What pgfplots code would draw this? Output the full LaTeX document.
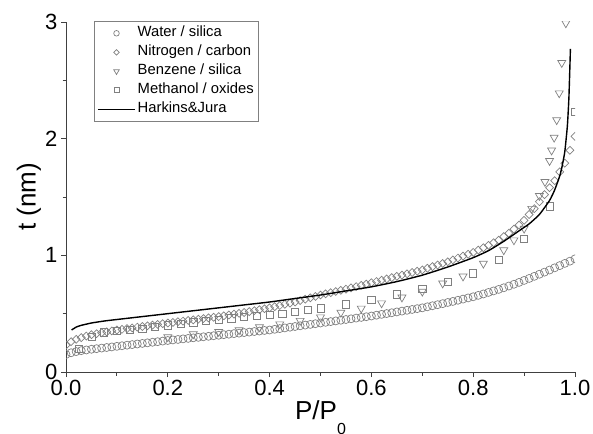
\documentclass[border=0pt]{standalone}
\usepackage{fontspec}
\setmainfont{Liberation Sans}
\usepackage{pgfplots}
\pgfplotsset{compat=1.18}
\definecolor{mk}{HTML}{808080}
\definecolor{ax}{HTML}{404040}
\begin{document}
\begin{tikzpicture}
\begin{axis}[
  scale only axis, width=509pt, height=350pt,
  xmin=0, xmax=1, ymin=0, ymax=3,
  axis x line*=bottom, axis y line*=left,
  axis line style={ax, line width=0.9pt},
  tick align=outside, tick style={ax, line width=0.9pt},
  major tick length=5pt, minor tick length=3.5pt,
  xtick={0,0.2,0.4,0.6,0.8,1}, ytick={0,1,2,3},
  minor x tick num=1, minor y tick num=1,
  /pgf/number format/assume math mode=true,
  xticklabel style={font=\fontsize{22}{22}\selectfont,
    /pgf/number format/.cd, fixed, fixed zerofill, precision=1},
  yticklabel style={font=\fontsize{22}{22}\selectfont},
  xlabel={P/P\raisebox{-15pt}{\fontsize{16}{16}\selectfont 0}}, ylabel={t (nm)},
  label style={font=\fontsize{26}{26}\selectfont},
  xlabel style={at={(axis description cs:0.5,0)}, anchor=base, yshift=-47pt},
  ylabel style={at={(axis description cs:0,0.5)}, anchor=center, yshift=37pt},
  clip marker paths=true,
  legend style={at={(axis description cs:0,1)}, anchor=north west,
    xshift=28pt, yshift=1pt, draw=mk, line width=0.6pt,
    font=\fontsize{14.8}{15}\selectfont, inner xsep=3pt, inner ysep=2.5pt,
    row sep=0pt, nodes={inner sep=2pt, text height=11pt, text depth=4pt}},
  legend cell align=left,
  legend image code/.code={\draw[mark repeat=2, mark phase=2, #1,
    every mark/.append style={scale=0.7}]
    plot coordinates {(0pt,0pt) (18.5pt,0pt) (37pt,0pt)};},
]
\coordinate (sw) at (rel axis cs:0,0);
\coordinate (ne) at (rel axis cs:1,1);

% Water / silica
\addplot[mk, only marks, mark=o, mark size=4pt, line width=0.7pt] table {
0.00 .150
0.01 .165
0.02 .175
0.03 .183
0.04 .189
0.05 .195
0.06 .200
0.07 .205
0.08 .210
0.09 .215
0.10 .220
0.11 .225
0.12 .230
0.13 .235
0.14 .240
0.15 .245
0.16 .250
0.17 .255
0.18 .260
0.19 .265
0.20 .270
0.21 .275
0.22 .279
0.23 .284
0.24 .288
0.25 .293
0.26 .297
0.27 .302
0.28 .306
0.29 .311
0.30 .315
0.31 .320
0.32 .324
0.33 .329
0.34 .333
0.35 .338
0.36 .342
0.37 .347
0.38 .351
0.39 .356
0.40 .360
0.41 .366
0.42 .372
0.43 .378
0.44 .384
0.45 .390
0.46 .396
0.47 .402
0.48 .408
0.49 .414
0.50 .420
0.51 .426
0.52 .432
0.53 .438
0.54 .444
0.55 .450
0.56 .456
0.57 .462
0.58 .468
0.59 .474
0.60 .480
0.61 .487
0.62 .494
0.63 .501
0.64 .508
0.65 .515
0.66 .522
0.67 .529
0.68 .536
0.69 .543
0.70 .550
0.71 .559
0.72 .568
0.73 .577
0.74 .586
0.75 .596
0.76 .605
0.77 .615
0.78 .625
0.79 .635
0.80 .645
0.81 .657
0.82 .669
0.83 .682
0.84 .695
0.85 .708
0.86 .722
0.87 .737
0.88 .752
0.89 .768
0.90 .785
0.91 .802
0.92 .820
0.93 .838
0.94 .856
0.95 .874
0.96 .893
0.97 .912
0.98 .931
0.99 .950
1.00 .970
};
\addlegendentry{Water / silica}

% Nitrogen / carbon
\addplot[mk, only marks, mark=square, mark size=2.8pt, line width=0.7pt,
  mark options={rotate=45}] table {
0.00 .230
0.01 .260
0.02 .280
0.03 .295
0.04 .308
0.05 .320
0.06 .328
0.07 .336
0.08 .344
0.09 .352
0.10 .360
0.11 .366
0.12 .372
0.13 .378
0.14 .384
0.15 .390
0.16 .396
0.17 .402
0.18 .408
0.19 .414
0.20 .420
0.21 .425
0.22 .431
0.23 .436
0.24 .442
0.25 .447
0.26 .453
0.27 .458
0.28 .464
0.29 .469
0.30 .475
0.31 .482
0.32 .489
0.33 .496
0.34 .503
0.35 .510
0.36 .518
0.37 .526
0.38 .534
0.39 .542
0.40 .550
0.41 .560
0.42 .570
0.43 .580
0.44 .590
0.45 .600
0.46 .612
0.47 .624
0.48 .636
0.49 .648
0.50 .660
0.51 .670
0.52 .680
0.53 .690
0.54 .700
0.55 .710
0.56 .721
0.57 .732
0.58 .743
0.59 .754
0.60 .765
0.61 .776
0.62 .787
0.63 .798
0.64 .809
0.65 .820
0.66 .831
0.67 .842
0.68 .853
0.69 .864
0.70 .875
0.71 .889
0.72 .903
0.73 .917
0.74 .931
0.75 .945
0.76 .961
0.77 .977
0.78 .993
0.79 1.009
0.80 1.025
0.81 1.045
0.82 1.065
0.83 1.086
0.84 1.108
0.85 1.130
0.86 1.160
0.87 1.190
0.88 1.225
0.89 1.260
0.90 1.300
0.91 1.350
0.92 1.400
0.93 1.460
0.94 1.520
0.95 1.580
0.96 1.640
0.97 1.715
0.98 1.790
0.99 1.900
1.00 2.020
};
\addlegendentry{Nitrogen / carbon}

% Benzene / silica
\addplot[mk, only marks, mark=triangle, mark size=4.6pt, line width=0.7pt,
  mark options={rotate=180}] table {
0.20 0.300
0.25 0.325
0.30 0.345
0.34 0.360
0.38 0.385
0.42 0.410
0.46 0.440
0.50 0.470
0.54 0.510
0.58 0.545
0.62 0.590
0.66 0.640
0.70 0.690
0.74 0.760
0.78 0.820
0.82 0.930
0.86 1.045
0.88 1.130
0.90 1.230
0.915 1.400
0.93 1.510
0.941 1.630
0.95 1.810
0.954 1.900
0.959 2.010
0.964 2.160
0.969 2.390
0.974 2.650
0.982 2.990
};
\addlegendentry{Benzene / silica}

% Methanol / oxides
\addplot[mk, only marks, mark=square, mark size=3.6pt, line width=0.7pt] table {
0.025 0.200
0.050 0.300
0.075 0.340
0.100 0.350
0.125 0.360
0.150 0.370
0.175 0.385
0.200 0.400
0.225 0.410
0.250 0.425
0.275 0.440
0.300 0.450
0.325 0.460
0.350 0.470
0.375 0.480
0.400 0.490
0.425 0.500
0.450 0.515
0.475 0.530
0.500 0.545
0.550 0.580
0.600 0.620
0.650 0.665
0.700 0.715
0.750 0.770
0.800 0.845
0.850 0.960
0.900 1.140
0.950 1.420
1.000 2.230
};
\addlegendentry{Methanol / oxides}

% Harkins & Jura
\addplot[black, line width=1.4pt, smooth, tension=0.3, no marks] table {
0.011 0.360
0.020 0.385
0.030 0.400
0.050 0.420
0.075 0.437
0.100 0.450
0.150 0.475
0.200 0.500
0.250 0.525
0.300 0.550
0.350 0.575
0.400 0.600
0.450 0.630
0.500 0.660
0.550 0.695
0.600 0.730
0.650 0.775
0.700 0.830
0.750 0.900
0.800 0.980
0.830 1.040
0.860 1.120
0.890 1.210
0.910 1.270
0.930 1.350
0.950 1.470
0.960 1.560
0.970 1.680
0.975 1.770
0.980 1.890
0.985 2.110
0.988 2.350
0.991 2.770
};
\addlegendentry{Harkins\&Jura}
\end{axis}
\pgfresetboundingbox
\path ([shift={(-66pt,-61pt)}]sw) rectangle ([shift={(18pt,22pt)}]ne);
\end{tikzpicture}
\end{document}
